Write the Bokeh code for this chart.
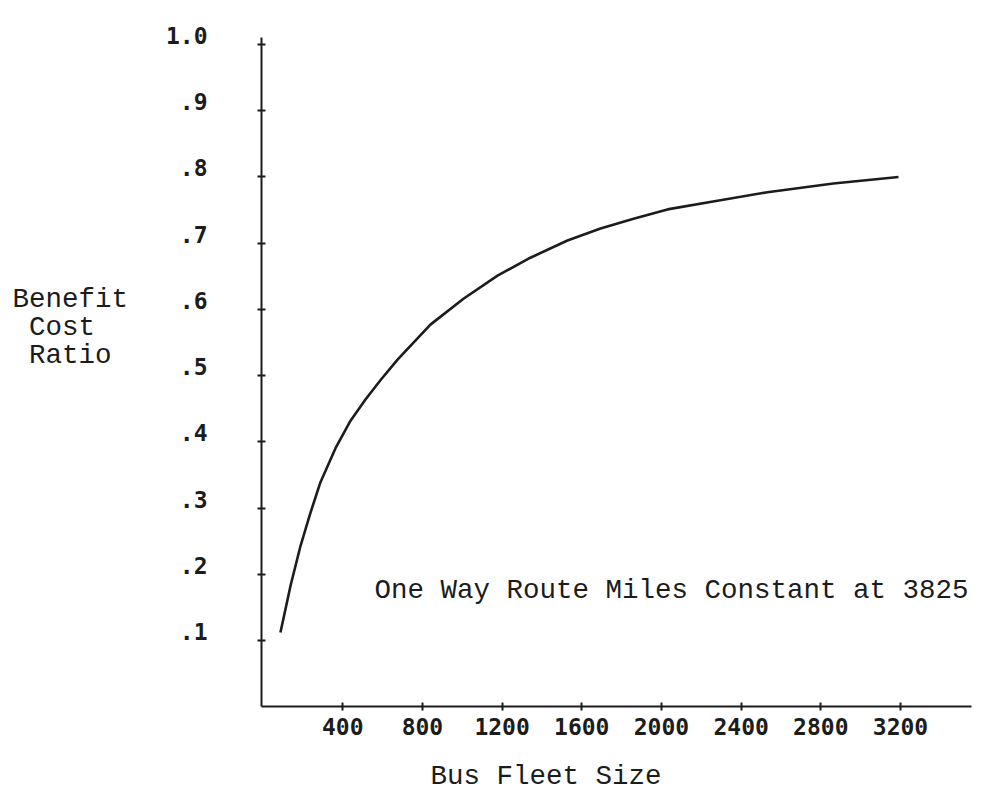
from bokeh.plotting import figure
from bokeh.models import Range1d, LinearAxis, FixedTicker, Label
from bokeh.embed import file_html
from bokeh.resources import INLINE

# ---- data ----
fleet = [87, 138, 188, 238, 288, 363, 439, 514, 589, 675, 840, 1006, 1177,
         1342, 1528, 1694, 1860, 2030, 2281, 2532, 2863, 3190]
ratio = [0.112, 0.183, 0.243, 0.293, 0.339, 0.390, 0.432, 0.464, 0.493,
         0.524, 0.577, 0.616, 0.651, 0.678, 0.704, 0.722, 0.737, 0.751,
         0.764, 0.777, 0.790, 0.800]

x_ticks = [400, 800, 1200, 1600, 2000, 2400, 2800, 3200]
x_tick_labels = ["400", "800", "1200", "1600", "2000", "2400", "2800", "3200"]
y_ticks = [0.1, 0.2, 0.3, 0.4, 0.5, 0.6, 0.7, 0.8, 0.9, 1.0]
y_tick_labels = [".1", ".2", ".3", ".4", ".5", ".6", ".7", ".8", ".9", "1.0"]

ylab_lines = ["Benefit", " Cost", " Ratio"]
xlab = "Bus Fleet Size"
note = "One Way Route Miles Constant at 3825"

INK = "#1c1c1c"
TICKFONT = "DejaVu Sans Mono"
TEXTFONT = "Liberation Mono"

W, H = 986, 792
# pixel geometry of the axes box
SX = 0.19918          # px per fleet unit
X_ZERO_PX = 262.6
SY = 662.2            # px per ratio unit
Y_ZERO_PX = 706.2

xr = Range1d(-X_ZERO_PX / SX, (W - X_ZERO_PX) / SX)
yr = Range1d(-(H - Y_ZERO_PX) / SY, Y_ZERO_PX / SY)

AX_X0, AX_X1 = -8, 3557      # extent of the x axis line
AX_Y0, AX_Y1 = 0.0, 1.01     # extent of the y axis line
shift = 9 / SY               # y labels sit a little above their ticks
BASE_FIX = 8                 # label baseline correction, px

p = figure(width=W, height=H, output_backend="svg", toolbar_location=None,
           x_range=xr, y_range=yr, x_axis_type=None, y_axis_type=None,
           min_border_left=0, min_border_right=0,
           min_border_top=0, min_border_bottom=0)
p.outline_line_color = None
p.grid.visible = False
p.background_fill_color = "white"
p.border_fill_color = "white"

# y axis: line and ticks
yax = LinearAxis(ticker=FixedTicker(ticks=y_ticks), fixed_location=AX_X0,
                 bounds=(AX_Y0, AX_Y1))
yax.axis_line_color = INK
yax.axis_line_width = 2
yax.major_tick_line_color = INK
yax.major_tick_line_width = 2
yax.major_tick_in = 4
yax.major_tick_out = 4
yax.minor_tick_line_color = None
yax.major_label_text_color = None
p.add_layout(yax, "left")

# y tick labels, on a range shifted so they sit slightly above the ticks
p.extra_y_ranges = {"lab": Range1d(yr.start - shift, yr.end - shift)}
yl = LinearAxis(y_range_name="lab", ticker=FixedTicker(ticks=y_ticks),
                fixed_location=AX_X0)
yl.axis_line_color = None
yl.major_tick_line_color = None
yl.minor_tick_line_color = None
yl.major_tick_in = 0
yl.major_tick_out = 0
yl.major_label_overrides = {t: s for t, s in zip(y_ticks, y_tick_labels)}
yl.major_label_text_font = TICKFONT
yl.major_label_text_font_style = "bold"
yl.major_label_text_font_size = "23px"
yl.major_label_text_color = INK
yl.major_label_standoff = 54
p.add_layout(yl, "left")

# x axis
xax = LinearAxis(ticker=FixedTicker(ticks=x_ticks), fixed_location=0,
                 bounds=(AX_X0, AX_X1))
xax.axis_line_color = INK
xax.axis_line_width = 2
xax.major_tick_line_color = INK
xax.major_tick_line_width = 2
xax.major_tick_in = 4
xax.major_tick_out = 4
xax.minor_tick_line_color = None
xax.major_label_overrides = {t: s for t, s in zip(x_ticks, x_tick_labels)}
xax.major_label_text_font = TICKFONT
xax.major_label_text_font_style = "bold"
xax.major_label_text_font_size = "23px"
xax.major_label_text_color = INK
xax.major_label_standoff = 7
p.add_layout(xax, "below")

p.line(fleet, ratio, line_color=INK, line_width=2.6, line_join="round")

def px_x(px):
    return (px - X_ZERO_PX) / SX

def px_y(py):
    return (Y_ZERO_PX - (py - BASE_FIX)) / SY

p.add_layout(Label(x=px_x(374), y=px_y(598), text=note, text_font=TEXTFONT,
                   text_font_size="27.5px", text_color=INK,
                   text_baseline="alphabetic", text_align="left"))

p.add_layout(Label(x=px_x(430), y=px_y(784), text=xlab, text_font=TEXTFONT,
                   text_font_size="27.5px", text_color=INK,
                   text_baseline="alphabetic", text_align="left"))

char_w = 16.4
for i, line in enumerate(ylab_lines):
    indent = len(line) - len(line.lstrip(" "))
    p.add_layout(Label(x=px_x(12 + indent * char_w), y=px_y(307 + 28 * i),
                       text=line.strip(), text_font=TEXTFONT,
                       text_font_size="27.5px", text_color=INK,
                       text_baseline="alphabetic", text_align="left"))

open("out.html", "w").write(file_html(p, INLINE))
